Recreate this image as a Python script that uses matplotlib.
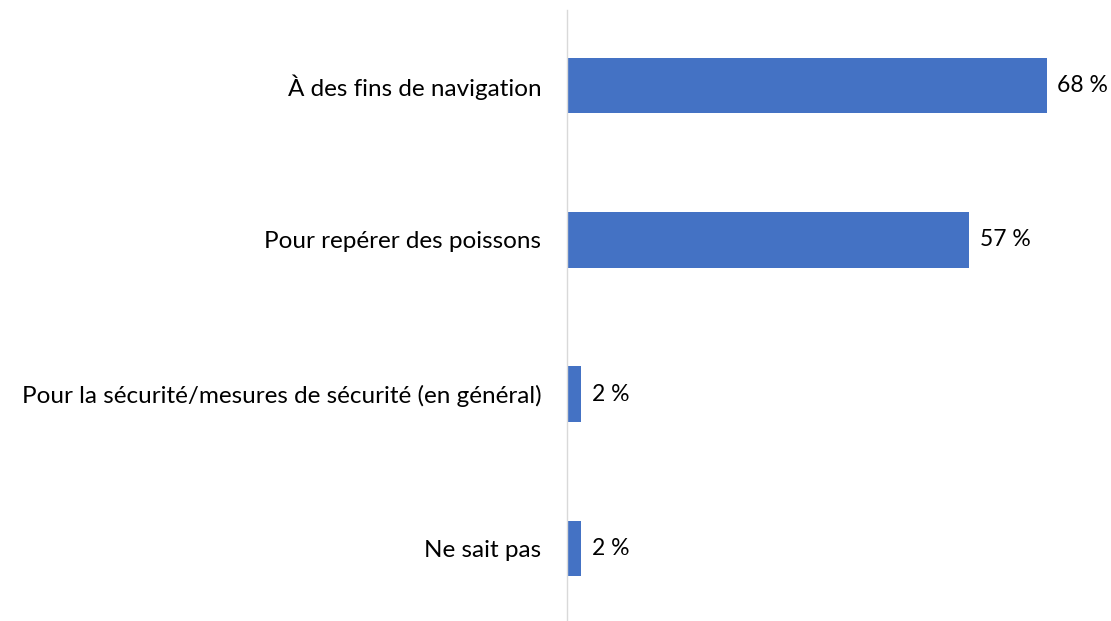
import matplotlib
matplotlib.use("Agg")
import matplotlib.pyplot as plt

categories = ["À des fins de navigation", "Pour repérer des poissons",
              "Pour la sécurité/mesures de sécurité (en général)", "Ne sait pas"]
values = [68, 57, 2, 2]
labels = ["68 %", "57 %", "2 %", "2 %"]

plt.rcParams['font.family'] = ['Lato', 'DejaVu Sans']

fig = plt.figure(figsize=(11.11, 6.21), dpi=100)
ax = fig.add_axes([567/1111, 0, 1 - 567/1111 - 8/1111, 1 - 10/621])

y = list(range(len(categories)))
ax.barh(y, values, height=0.36, color="#4472C4")
for yi, v, lab in zip(y, values, labels):
    ax.text(v + 1.5, yi, lab, va="center", ha="left", fontsize=16.5, color="#000000")

ax.set_xlim(0, 76)
ax.set_ylim(3.47, -0.49)
ax.set_yticks(y)
ax.set_yticklabels(categories, fontsize=17.5)
ax.tick_params(axis="y", length=0, pad=18.5)
ax.set_xticks([])
for s in ["top", "right", "bottom"]:
    ax.spines[s].set_visible(False)
ax.spines["left"].set_color("#D9D9D9")
ax.spines["left"].set_linewidth(1)

fig.savefig("out.png", dpi=100)
